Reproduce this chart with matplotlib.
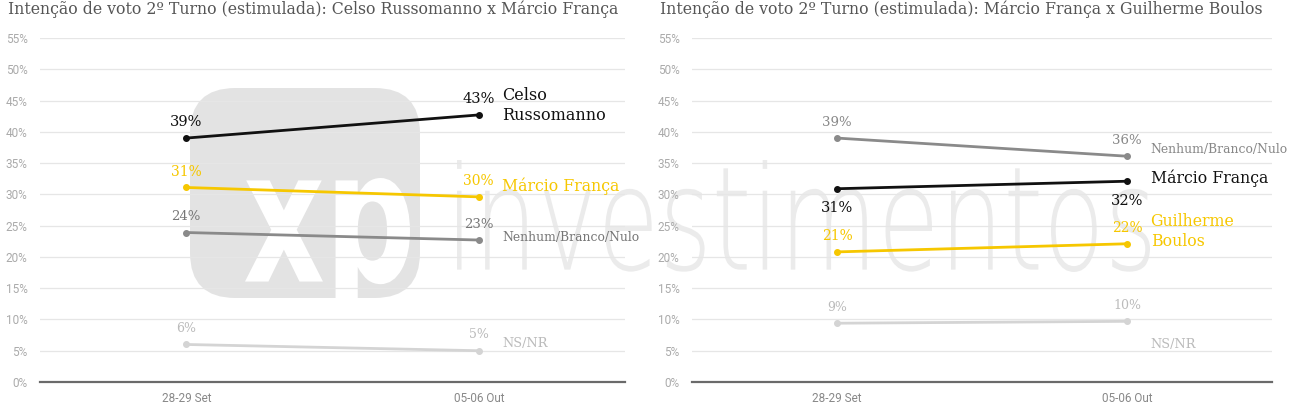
import matplotlib.pyplot as plt
from matplotlib.patches import FancyBboxPatch, PathPatch
from matplotlib.textpath import TextPath
from matplotlib.font_manager import FontProperties
from matplotlib.transforms import Affine2D

# ---- data -------------------------------------------------------------
dates = ["28-29 Set", "05-06 Out"]

left_title = "Intenção de voto 2º Turno (estimulada): Celso Russomanno x Márcio França"
left_names = ["Celso\nRussomanno", "Márcio França", "Nenhum/Branco/Nulo", "NS/NR"]
left_values = [[39.0, 42.7], [31.1, 29.6], [23.9, 22.7], [6.0, 5.0]]
left_labels = [["39%", "43%"], ["31%", "30%"], ["24%", "23%"], ["6%", "5%"]]

right_title = "Intenção de voto 2º Turno (estimulada): Márcio França x Guilherme Boulos"
right_names = ["Nenhum/Branco/Nulo", "Márcio França", "Guilherme\nBoulos", "NS/NR"]
right_values = [[39.0, 36.1], [30.9, 32.1], [20.8, 22.1], [9.4, 9.7]]
right_labels = [["39%", "36%"], ["31%", "32%"], ["21%", "22%"], ["9%", "10%"]]

yticks = list(range(0, 60, 5))

BLACK = "#111111"
YELLOW = "#F6C700"
GRAY = "#8a8a8a"
LIGHT = "#d4d4d4"

SERIF = "DejaVu Serif"
NARROW = ["Liberation Sans Narrow", "Roboto", "DejaVu Sans"]

W, H = 1296, 411


def draw_panel(ax, title, names, values, labels, styles):
    x = [0, 1]
    for name, vals, labs, st in zip(names, values, labels, styles):
        line_c, text_c, name_size, val_size, below, name_dy = st
        ax.plot(x, vals, color=line_c, lw=2, marker="o", ms=4, zorder=3)
        for xi, v, lab in zip(x, vals, labs):
            dy = -14 if below else 11.5
            ax.annotate(lab, (xi, v), xytext=(0, dy), textcoords="offset points",
                        ha="center", va="center", color=text_c, fontsize=val_size,
                        family=SERIF)
        ax.annotate(name, (1, vals[1]), xytext=(17, name_dy), textcoords="offset points",
                    ha="left", va="center", color=text_c, fontsize=name_size,
                    family=SERIF, linespacing=1.25)
    ax.set_xlim(-0.5, 1.5)
    ax.set_ylim(0, 55)
    ax.set_yticks(yticks)
    ax.set_yticklabels([f"{t}%" for t in yticks], family=NARROW, fontsize=8.5, color="#aaaaaa")
    ax.set_xticks(x)
    ax.set_xticklabels(dates, family=NARROW, fontsize=8.5, color="#888888")
    ax.tick_params(length=0, axis="y", pad=9)
    ax.tick_params(length=0, axis="x", pad=7)
    ax.grid(axis="y", color="#e6e6e6", lw=0.9)
    ax.set_axisbelow(True)
    for s in ["top", "right", "left"]:
        ax.spines[s].set_visible(False)
    ax.spines["bottom"].set_color("#6a6a6a")
    ax.spines["bottom"].set_linewidth(1.6)
    ax.set_facecolor("none")
    ax.set_title(title, loc="left", x=-0.055, y=1.045, family=SERIF, fontsize=11.3,
                 color="#555555")


def path_in_box(fig, text, x0, x1, y_top, y_bot, color, weight="normal"):
    """Stretch a text outline into a pixel box (pixels from top-left)."""
    tp = TextPath((0, 0), text, size=100, prop=FontProperties(family="DejaVu Sans", weight=weight))
    ext = tp.get_extents()
    sx = (x1 - x0) / W / ext.width
    sy = (y_bot - y_top) / H / ext.height
    tr = (Affine2D().translate(-ext.x0, -ext.y0).scale(sx, sy)
          .translate(x0 / W, 1 - y_bot / H) + fig.transFigure)
    patch = PathPatch(tp, transform=tr, facecolor=color, edgecolor="none", zorder=-1)
    fig.patches.append(patch)


fig = plt.figure(figsize=(W / 100, H / 100), dpi=100)

# watermark behind everything
box = FancyBboxPatch((190 / W, 1 - 298 / H), 230 / W, 210 / H,
                     boxstyle="round,pad=0,rounding_size=0.035",
                     transform=fig.transFigure, facecolor="#e3e3e3", edgecolor="none",
                     zorder=-2, mutation_aspect=W / H)
fig.patches.append(box)
path_in_box(fig, "xp", 245, 410, 178, 320, "white", weight="bold")
path_in_box(fig, "investimentos", 457, 1150, 160, 272, "#ebebeb", weight="light")

ax1 = fig.add_axes([40 / W, 1 - 382 / H, 585 / W, 344 / H])
ax2 = fig.add_axes([692 / W, 1 - 382 / H, 580 / W, 344 / H])

left_styles = [
    (BLACK, BLACK, 11.5, 10.5, False, 7),
    (YELLOW, YELLOW, 11.3, 10, False, 8),
    (GRAY, "#777777", 8.9, 9.5, False, 2),
    (LIGHT, "#bbbbbb", 9.3, 9, False, 5),
]
right_styles = [
    (GRAY, "#888888", 8.9, 9.5, False, 5),
    (BLACK, BLACK, 11.3, 10.5, True, 2),
    (YELLOW, YELLOW, 11.3, 10, False, 9),
    (LIGHT, "#bbbbbb", 9.3, 9, False, -17),
]

draw_panel(ax1, left_title, left_names, left_values, left_labels, left_styles)
draw_panel(ax2, right_title, right_names, right_values, right_labels, right_styles)

fig.savefig("out.png", dpi=100)
